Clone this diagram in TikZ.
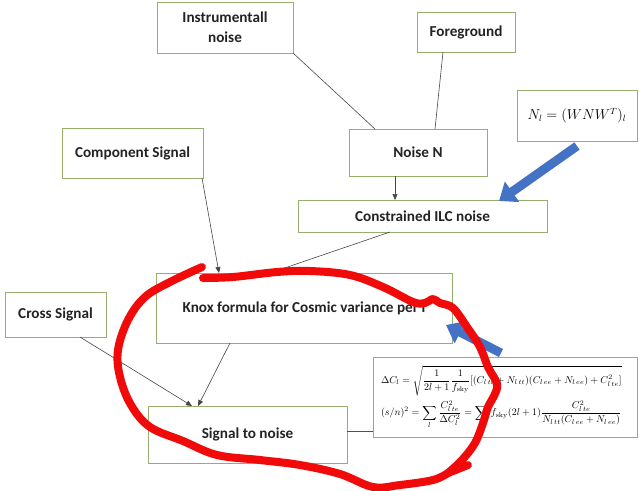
\documentclass[tikz,border=0pt]{standalone}
\usepackage{fontspec}
\usepackage{amsmath}
\usetikzlibrary{arrows.meta,calc}
\newfontfamily\boxfont{Carlito}[BoldFont={Carlito Bold}]
\definecolor{boxline}{RGB}{150,175,110}
\definecolor{txt}{RGB}{35,35,35}
\definecolor{conn}{RGB}{70,70,70}
\definecolor{bluefill}{RGB}{68,114,196}
\definecolor{bluelink}{RGB}{50,80,170}
\definecolor{redpen}{RGB}{240,10,10}
\tikzset{
  box/.style={draw=boxline, line width=0.8pt, fill=white, inner sep=0pt, outer sep=0pt,
    text=txt, align=center, font=\boxfont\bfseries\fontsize{15.2}{20}\selectfont},
  arr/.style={draw=conn, line width=0.6pt, -{Triangle[length=6pt,width=5pt]}},
  plain/.style={draw=conn, line width=0.6pt},
  bluearrow/.style={draw=bluefill, line width=9pt, -{Triangle[length=16pt,width=24pt]}},
  bluelinkstyle/.style={draw=bluelink, line width=1.6pt},
  redstroke/.style={draw=redpen, line width=8pt, line cap=round, line join=round}
}
\begin{document}
\begin{tikzpicture}[x=1pt,y=-1pt]
\useasboundingbox (0,0) rectangle (639,490);
% boxes
\node[box, minimum width=136pt, minimum height=51pt] (instr) at (225,27.5) {Instrumentall\\noise};
\node[box, minimum width=98pt, minimum height=40pt] (fg) at (466,32) {Foreground};
\node[box, minimum width=120pt, minimum height=51pt, text=black, font=\fontsize{13.5}{15}\selectfont] (nl) at (577,115.5) {$N_l=(WNW^T)_l$};
\node[box, minimum width=141pt, minimum height=50pt] (comp) at (132.5,153) {Component Signal};
\node[box, minimum width=138pt, minimum height=47pt] (noise) at (418,152.5) {Noise N};
\node[box, minimum width=249pt, minimum height=32pt] (ilc) at (422.5,216) {Constrained ILC noise};
\node[box, minimum width=296pt, minimum height=70pt] (knox) at (304,308) {Knox formula for Cosmic variance per l};
\node[box, minimum width=101pt, minimum height=45pt] (cross) at (55.5,314.5) {Cross Signal};
\node[box, minimum width=199pt, minimum height=57pt] (s2n) at (247.5,434.5) {Signal to noise};
\node[box, minimum width=264pt, minimum height=80pt, text width=248pt, align=left, text=black,
  font=\fontsize{10}{11.5}\selectfont] (formula) at (505,397)
  {$\displaystyle \Delta C_l=\sqrt{\frac{1}{2l+1}\frac{1}{f_{\rm sky}}[(C_{l\,tt}+N_{l\,tt})(C_{l\,ee}+N_{l\,ee})+C^2_{l\,te}]}$\\[4pt]
   $\displaystyle (s/n)^2=\sum_l\frac{C^2_{l\,te}}{\Delta C_l^2}=\sum_l f_{\rm sky}(2l+1)\frac{C^2_{l\,te}}{N_{l\,tt}(C_{l\,ee}+N_{l\,ee})}$};
% connectors
\draw[plain] (instr.south east) -- ([xshift=26pt]noise.north west);
\draw[plain] ([xshift=26pt]fg.south west) -- ([xshift=86pt]noise.north west);
\draw[arr] ([xshift=46pt]noise.south west) -- ([xshift=46pt]noise.south west |- ilc.north);
\draw[arr] ([xshift=-1pt]comp.south east) -- ([xshift=63pt]knox.north west);
\draw[arr] ([xshift=92pt]ilc.south west) -- ([xshift=114pt]knox.north west);
\draw[arr] ([xshift=75pt]cross.south west) -- ([xshift=44pt]s2n.north west);
\draw[arr] ([xshift=74pt]knox.south west) -- ([xshift=50pt]s2n.north west);
\draw[bluelinkstyle] ([yshift=3pt]s2n.east) -- ([yshift=3pt]s2n.east -| formula.west);
% blue block arrows
\coordinate (bt1) at (577,146);
\coordinate (bt2) at (501,353);
\draw[bluearrow] (bt1) -- ([xshift=201pt,yshift=-1pt]ilc.north west);
\draw[bluearrow] (bt2) -- ([xshift=-6pt,yshift=-52pt]knox.north east);
% red freehand loop
\draw[redstroke] plot[smooth, tension=0.6] coordinates {(203,278) (233,277) (277,272) (310,271) (350,275) (383,287) (413,302) (425,303) (433,299) (440,303) (453,308) (467,327) (480,347) (488,367) (497,384) (494,396) (488,407) (483,423) (475,443) (462,460) (448,473)};
\draw[redstroke] plot[smooth, tension=0.6] coordinates {(448,473) (433,480) (400,485) (373,487) (340,474) (300,465) (260,460) (217,455) (183,441) (150,427) (131,405) (120,377) (118,350) (128,320) (145,297) (170,282) (202,267)};
\draw[redstroke] (448,473) -- (468,465);
\end{tikzpicture}
\end{document}
